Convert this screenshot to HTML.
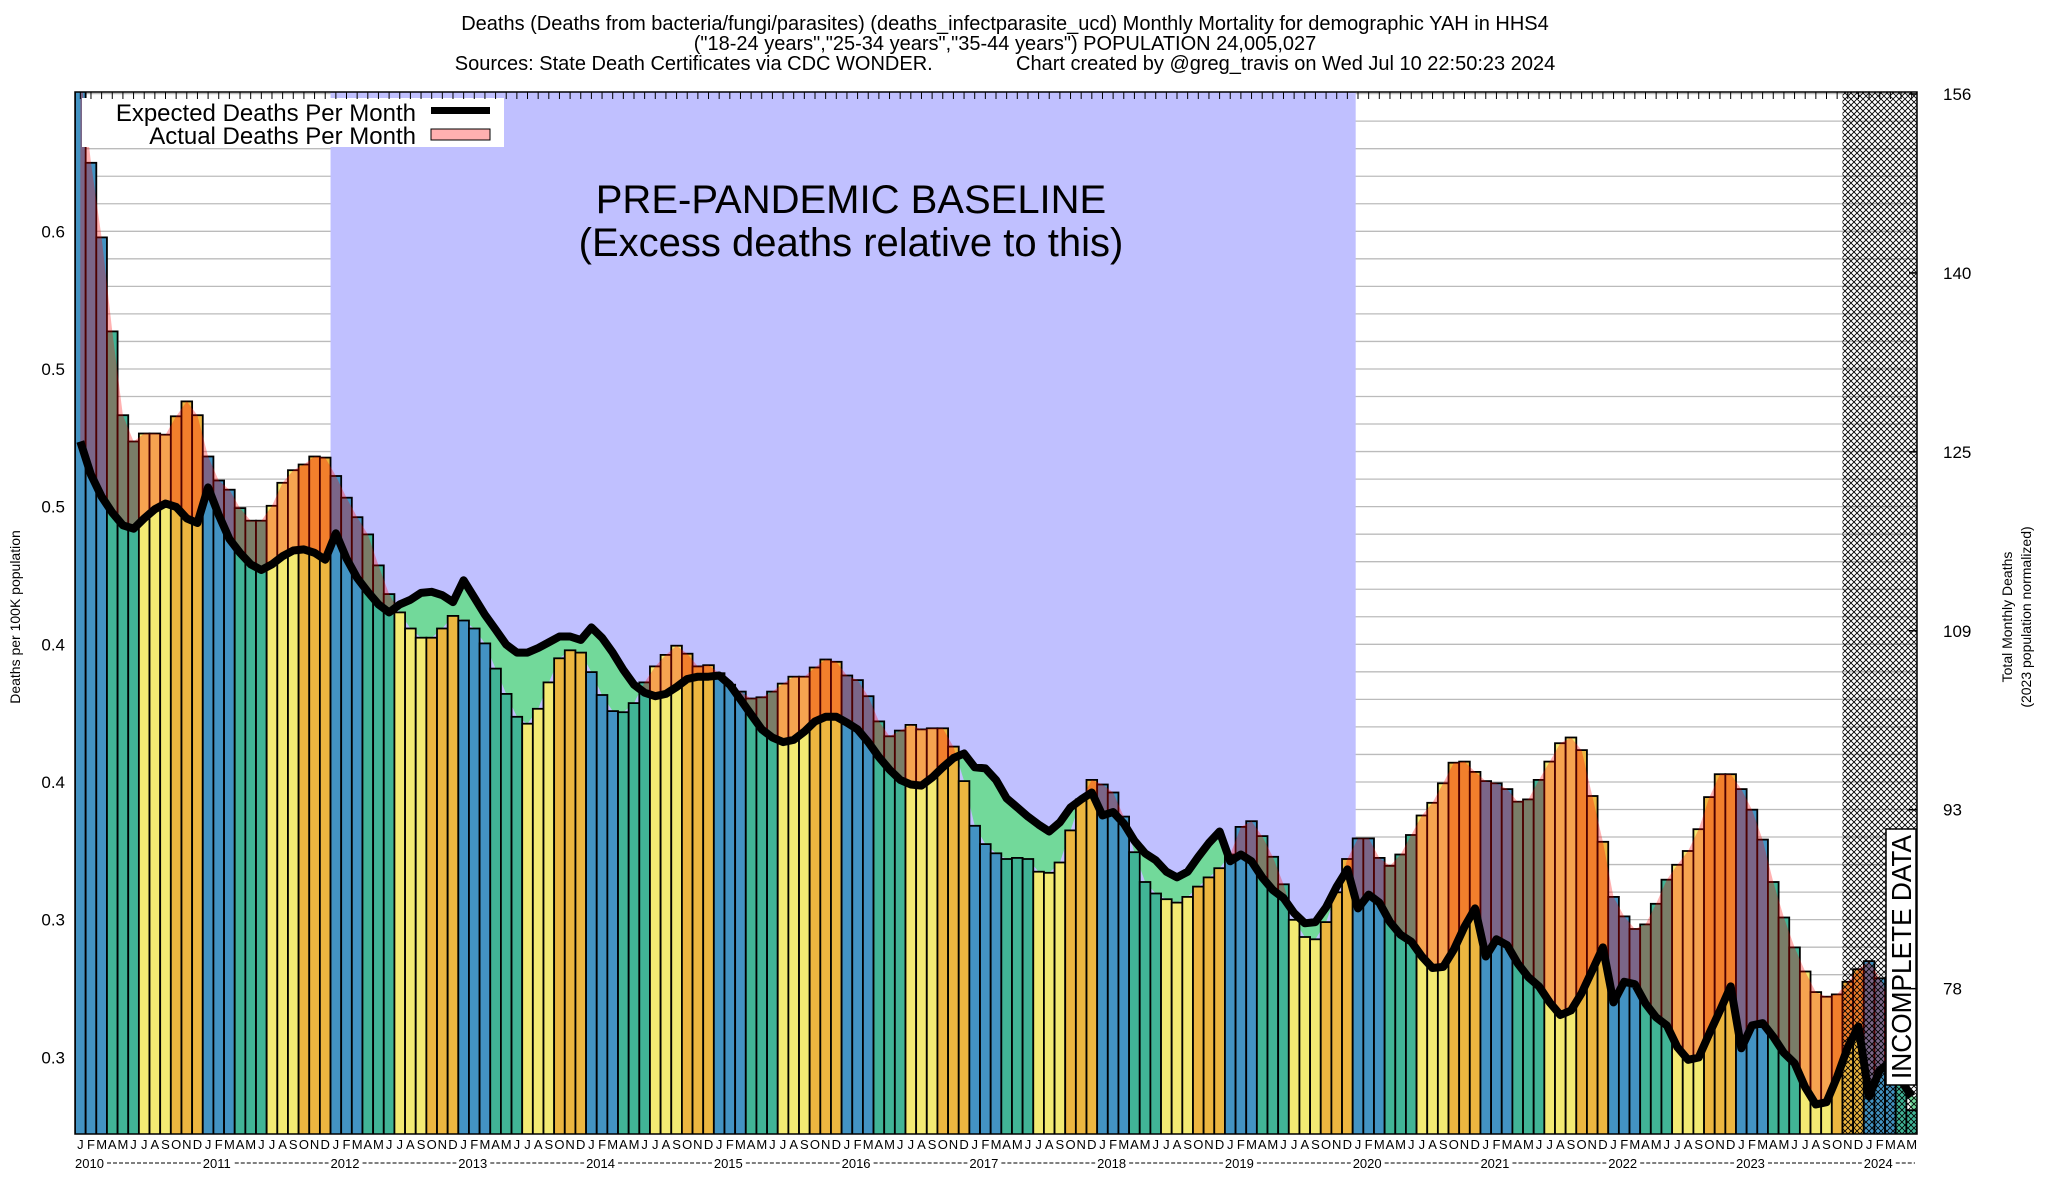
<!DOCTYPE html>
<html><head><meta charset="utf-8">
<style>
html,body{margin:0;padding:0;background:#fff;}
svg{display:block;font-family:"Liberation Sans",Arial,sans-serif;}
</style></head>
<body>
<svg id="chart" xmlns="http://www.w3.org/2000/svg" width="2048" height="1200" viewBox="0 0 2048 1200">
<defs>
<clipPath id="plotClip"><rect x="75" y="92" width="1842" height="1042"/></clipPath>
<clipPath id="aboveClip"><polygon id="abovePoly" points=""/></clipPath>
<clipPath id="belowClip"><polygon id="belowPoly" points=""/></clipPath>
<pattern id="hatch" width="6" height="6" patternUnits="userSpaceOnUse">
<path d="M0,0 L6,6 M6,0 L0,6" stroke="#000" stroke-width="0.9"/>
</pattern>
</defs>
<g font-size="20" text-anchor="middle" fill="#000">
<text x="1005" y="30">Deaths (Deaths from bacteria/fungi/parasites) (deaths_infectparasite_ucd) Monthly Mortality for demographic YAH in HHS4</text>
<text x="1005" y="50">("18-24 years","25-34 years","35-44 years") POPULATION 24,005,027</text>
<text x="1005" y="70" xml:space="preserve">Sources: State Death Certificates via CDC WONDER.               Chart created by @greg_travis on Wed Jul 10 22:50:23 2024</text>
</g>
<rect x="75" y="92" width="1842" height="1042" fill="#fff"/>
<g id="grid"></g>
<g clip-path="url(#plotClip)">
<rect id="band" fill="#c0c0ff"/>
<g id="greenArea" clip-path="url(#belowClip)"></g>
<g id="bars"></g>
<g id="redArea" clip-path="url(#aboveClip)"></g>
<g id="lineG"></g>
<rect id="hatchRect" fill="url(#hatch)"/>
</g>
<text x="851" y="213" font-size="40" text-anchor="middle">PRE-PANDEMIC BASELINE</text>
<text x="851" y="256" font-size="40" text-anchor="middle">(Excess deaths relative to this)</text>
<g>
<rect x="82" y="98" width="422" height="49" fill="#fff"/>
<text x="416" y="121" font-size="24" text-anchor="end">Expected Deaths Per Month</text>
<rect x="431" y="107" width="59" height="7" fill="#000"/>
<text x="416" y="144" font-size="24" text-anchor="end">Actual Deaths Per Month</text>
<rect x="431" y="129" width="59" height="11" fill="#ffb0b0" stroke="#000" stroke-width="1"/>
</g>
<g>
<rect x="1886" y="829" width="30" height="256" fill="#fff" stroke="#000" stroke-width="1.5"/>
<text transform="translate(1911 957) rotate(-90)" font-size="28" text-anchor="middle" textLength="244" lengthAdjust="spacingAndGlyphs">INCOMPLETE DATA</text>
</g>
<rect x="75" y="92" width="1842" height="1042" fill="none" stroke="#000" stroke-width="1.5"/>
<g id="axes"></g>
<text x="0" y="0" font-size="14" text-anchor="middle" transform="translate(20 617) rotate(-90)">Deaths per 100K population</text>
<g font-size="14" text-anchor="middle">
<text transform="translate(2012 617) rotate(-90)">Total Monthly Deaths</text>
<text transform="translate(2031 617) rotate(-90)">(2023 population normalized)</text>
</g>
</svg>
<script>
const actual2010=[158,150.0,143.5,135.3,128.0,125.7,126.4,126.4,126.3,127.9,129.2,128.0];
const actual2011=[124.4,122.3,121.5,119.9,118.8,118.8,120.1,122.1,123.2,123.7,124.4,124.3];
const actual2012=[122.7,120.8,119.1,117.6,114.9,112.4,110.8,109.4,108.6,108.6,109.4,110.5];
const actual2013=[110.1,109.4,108.1,105.9,103.7,101.7,101.1,102.4,104.7,106.8,107.5,107.3];
const actual2014=[105.6,103.6,102.2,102.1,102.9,104.7,106.1,107.1,107.9,107.2,106.1,106.2];
const actual2015=[105.5,104.5,103.9,103.3,103.4,103.9,104.6,105.2,105.2,106.0,106.7,106.5];
const actual2016=[105.3,104.9,103.5,101.3,100.0,100.5,101.0,100.6,100.7,100.7,99.1,96.1];
const actual2017=[92.2,90.6,89.8,89.3,89.4,89.3,88.2,88.1,89.0,91.8,94.5,96.2];
const actual2018=[95.8,95.1,93.0,89.9,87.3,86.3,85.8,85.5,86.0,86.9,87.7,88.5];
const actual2019=[89.7,92.1,92.6,91.3,89.5,87.1,84.0,82.5,82.3,83.8,86.4,89.3];
const actual2020=[91.1,91.1,89.4,88.7,89.7,91.4,93.1,94.2,95.9,97.7,97.8,96.9];
const actual2021=[96.1,95.9,95.4,94.3,94.5,96.2,97.8,99.4,99.9,98.8,94.8,90.8];
const actual2022=[86.0,84.3,83.2,83.6,85.4,87.5,88.8,90.0,91.9,94.7,96.7,96.7];
const actual2023=[95.4,93.6,91.0,87.3,84.2,81.6,79.5,77.7,77.3,77.5,78.6,79.7];
const actual2024=[80.4,78.9,77.0,71.8,67.4];
const expected2010=[125.7,122.8,120.9,119.5,118.4,118.1,119.0,119.8,120.3,120.0,119.0,118.6];
const expected2011=[121.7,119.3,117.2,116.0,115.0,114.5,115.0,115.7,116.2,116.3,116.0,115.4];
const expected2012=[117.7,115.5,113.8,112.6,111.5,110.8,111.5,111.9,112.5,112.6,112.3,111.7];
const expected2013=[113.6,112.1,110.6,109.3,108.0,107.3,107.3,107.7,108.2,108.7,108.7,108.4];
const expected2014=[109.5,108.6,107.3,105.8,104.5,103.8,103.5,103.7,104.3,105.0,105.2,105.2];
const expected2015=[105.3,104.5,103.2,101.9,100.6,99.9,99.5,99.7,100.4,101.3,101.7,101.7];
const expected2016=[101.2,100.6,99.5,98.2,97.1,96.2,95.8,95.7,96.4,97.3,98.1,98.5];
const expected2017=[97.3,97.2,96.2,94.6,93.8,93.0,92.3,91.7,92.5,93.8,94.5,95.1];
const expected2018=[93.1,93.4,92.4,90.9,89.8,89.2,88.2,87.7,88.2,89.5,90.7,91.7];
const expected2019=[89.1,89.7,89.1,87.7,86.6,85.9,84.6,83.7,83.8,85.1,86.9,88.4];
const expected2020=[85.0,86.2,85.5,83.8,82.7,82.1,80.8,79.8,79.9,81.4,83.4,85.0];
const expected2021=[80.8,82.3,81.8,80.2,79.0,78.2,76.8,75.7,76.1,77.6,79.6,81.6];
const expected2022=[76.8,78.6,78.4,76.7,75.5,74.8,72.9,71.8,72.0,74.1,76.1,78.2];
const expected2023=[72.8,74.8,75.0,73.8,72.4,71.5,69.4,67.9,68.1,70.3,72.9,74.7];
const expected2024=[68.6,70.9,71.5,70.0,68.6];
const monthLetters=["J","F","M","A","M","J","J","A","S","O","N","D"];
const years=["2010","2011","2012","2013","2014","2015","2016","2017","2018","2019","2020","2021","2022","2023","2024"];
const leftTickValues=[0.30,0.35,0.40,0.45,0.50,0.55,0.60];
const leftTickLabels=["0.3","0.3","0.4","0.4","0.5","0.5","0.6"];
const rightTickValues=[78,93.6,109.2,124.8,140.4,156];
const rightTickLabels=["78","93","109","125","140","156"];
const population=24005027;
const baselineStartIndex=24, baselineEndIndex=120, incompleteStartIndex=166;

const actual=[].concat(actual2010,actual2011,actual2012,actual2013,actual2014,actual2015,actual2016,actual2017,actual2018,actual2019,actual2020,actual2021,actual2022,actual2023,actual2024);
const expected=[].concat(expected2010,expected2011,expected2012,expected2013,expected2014,expected2015,expected2016,expected2017,expected2018,expected2019,expected2020,expected2021,expected2022,expected2023,expected2024);
const NS="http://www.w3.org/2000/svg";
const L=75,R=1917,T=92,B=1134,N=actual.length,bw=(R-L)/N;
function xOf(i){return L+i*bw;}
function xc(i){return L+(i+0.5)*bw;}
function yOf(d){return 94+(156-d)*11.47;}
function rateToDeaths(r){return r*population/1e5;}
function mk(tag,attrs,parent){const e=document.createElementNS(NS,tag);for(const k in attrs)e.setAttribute(k,attrs[k]);parent.appendChild(e);return e;}
const colors=["#4393c3","#4393c3","#4393c3","#41b496","#41b496","#41b496","#f3ea73","#f3ea73","#f3ea73","#ecb640","#ecb640","#ecb640"];

const grid=document.getElementById('grid');
for(let k=27;k<=65;k++){const d=rateToDeaths(k/100);const y=yOf(d);if(y<T||y>B)continue;
const g=mk('line',{x1:L,x2:R,y1:y,y2:y,stroke:'#bbb','stroke-width':1.3},grid);

}
const band=document.getElementById('band');
band.setAttribute('x',xOf(baselineStartIndex));band.setAttribute('y',T);
band.setAttribute('width',xOf(baselineEndIndex)-xOf(baselineStartIndex)+3);band.setAttribute('height',B-T);
const expPts=expected.map((v,i)=>[xc(i),yOf(v)]);
const ext=[[L,expPts[0][1]]].concat(expPts,[[R,expPts[N-1][1]]]);
const ps=a=>a.map(p=>p[0].toFixed(1)+','+p[1].toFixed(1)).join(' ');
document.getElementById('abovePoly').setAttribute('points',ps(ext)+' '+R+','+(T-10)+' '+xc(0)+','+(T-10));
document.getElementById('belowPoly').setAttribute('points',ps(ext)+' '+R+','+(B+10)+' '+L+','+(B+10));
const actPts=actual.map((v,i)=>[xc(i),yOf(v)]).concat([[R,yOf(actual[N-1])]]);
const areaPts=ps(actPts)+' '+ps(expPts.concat([[R,expPts[N-1][1]]]).reverse());
const ga=mk('polygon',{points:areaPts,fill:'#72d99a'},document.getElementById('greenArea'));


const barsG=document.getElementById('bars');
actual.forEach((v,i)=>{const y=yOf(v);
const r=mk('rect',{x:xOf(i).toFixed(2),y:y.toFixed(1),width:bw.toFixed(2),height:(B-y+5).toFixed(1),fill:colors[i%12],stroke:'#000','stroke-width':1.8},barsG);

});
const ra=mk('polygon',{points:areaPts,fill:'rgba(255,0,0,0.3)'},document.getElementById('redArea'));


const ln=mk('polyline',{points:ps(expPts),fill:'none',stroke:'#000','stroke-width':8,'stroke-linejoin':'round'},document.getElementById('lineG'));


const h=document.getElementById('hatchRect');
h.setAttribute('x',xOf(incompleteStartIndex));h.setAttribute('y',T);h.setAttribute('width',R-xOf(incompleteStartIndex));h.setAttribute('height',B-T);
const ax=document.getElementById('axes');
leftTickValues.forEach((v,i)=>{const y=yOf(rateToDeaths(v));
const t=mk('text',{x:65,y:y+6,'font-size':17,'text-anchor':'end'},ax);t.textContent=leftTickLabels[i];

});
rightTickValues.forEach((v,i)=>{const y=yOf(v);
const tk=mk('line',{x1:R-8,x2:R,y1:y,y2:y,stroke:'#000','stroke-width':1.5},ax);


const t=mk('text',{x:1943,y:y+6,'font-size':17},ax);t.textContent=rightTickLabels[i];

});
for(let i=0;i<N;i++){
const tk=mk('line',{x1:xc(i),x2:xc(i),y1:T,y2:T+7,stroke:'#000','stroke-width':1},ax);


const t=mk('text',{x:xc(i),y:1149,'font-size':13,'text-anchor':'middle'},ax);t.textContent=monthLetters[i%12];

}
years.forEach((yr,k)=>{const x=xOf(k*12);
const t=mk('text',{x:x,y:1168,'font-size':13},ax);t.textContent=yr;


const xe=Math.min(xOf((k+1)*12),R);
const dl=mk('line',{x1:x+32,x2:xe-2,y1:1163,y2:1163,stroke:'#000','stroke-width':1,'stroke-dasharray':'4,2'},ax);

});
</script>
</body></html>
